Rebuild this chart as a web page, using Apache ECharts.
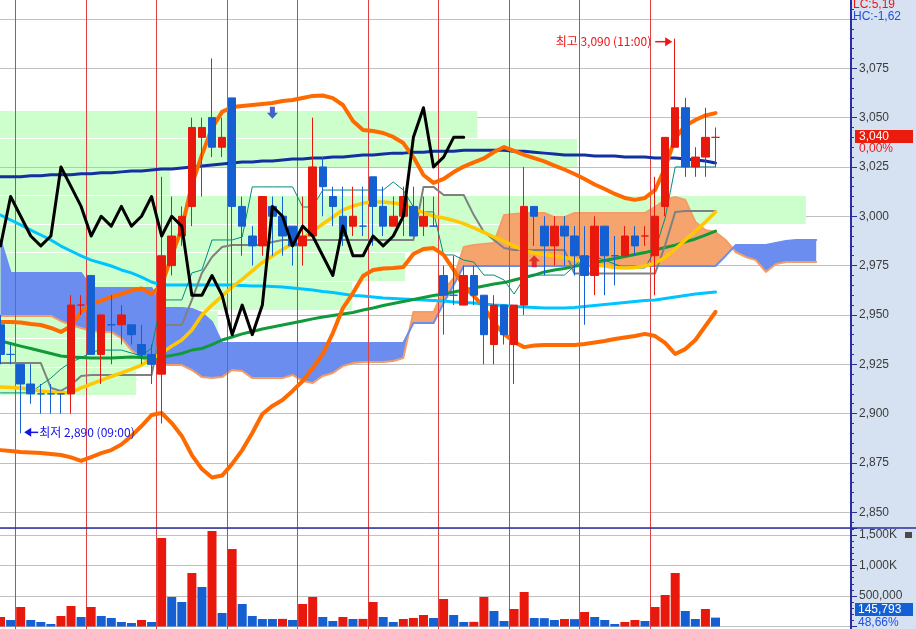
<!DOCTYPE html>
<html>
<head>
<meta charset="utf-8">
<title>chart</title>
<script src="https://cdn.jsdelivr.net/npm/echarts@6/dist/echarts.min.js"></script>
<style>
html,body{margin:0;padding:0;background:#ffffff;}
#chart{width:916px;height:629px;}
</style>
</head>
<body>
<div id="chart"></div>
<script>
// ================= DATA =================
const opens  = [2945,2930,2925,2915,2910,2910,2910,2910,2955,2970, 2930,2945,2945,2945,2935,2930,2920,2975,2990,3005, 3040,3050,3035,3060,3005,2990,2985,3005,3000,2995, 2985,2990,3025,3010,3000,2995,2995,3020,3005,2995, 3000,3005,2995,2995,2970,2960,2955,2970,2960,2935, 2955,2935,2955,3005,2995,2985,2995,2990,2980,2970, 2995,2980,2980,2990,2990,2980,3005,3035,3055,3025, 3030,3040];
const closes = [2930,2930,2915,2910,2910,2910,2910,2955,2955,2930, 2950,2945,2950,2940,2930,2925,2980,2990,3000,3045, 3045,3035,3040,3005,2995,2985,3010,3000,2990,2985, 2990,3025,3015,3005,2990,3000,2995,3005,2995,3000, 3010,2990,3000,2995,2960,2960,2970,2960,2940,2955, 2940,2955,3005,3000,2985,2995,2990,2980,2970,2995, 2980,2980,2990,2985,2990,3000,3040,3055,3025,3030, 3040,3040];
const lows   = [2925,2925,2890,2905,2900,2900,2900,2900,2950,2930, 2915,2925,2935,2935,2925,2915,2895,2970,2985,2995, 3010,3030,3030,2940,2980,2975,2980,2980,2980,2975, 2975,2990,3000,2995,2985,2990,2990,2985,2990,2995, 2990,2990,2990,2995,2940,2955,2955,2955,2925,2925, 2935,2915,2950,2985,2970,2975,2975,2970,2945,2960, 2960,2965,2980,2980,2985,2960,3000,3035,3020,3020, 3020,3025];
const highs  = [2950,2935,2925,2925,2915,2915,2910,2960,2960,2970, 2950,2960,2955,2945,2945,2935,3020,3010,3005,3050, 3050,3080,3050,3060,3010,2995,3010,3010,3010,2995, 3010,3050,3030,3015,3015,3015,3015,3020,3015,3010, 3015,3015,3010,3010,2975,2980,2975,2975,2960,2960, 2955,2955,3025,3005,3000,3000,3000,2995,2995,3000, 2995,2990,2995,2995,2995,3020,3040,3090,3060,3035, 3055,3045];
const volumes = [156000,107000,320000,107000,74000,41000,172000,336000,156000,320000, 172000,139000,74000,57000,107000,74000,1451000,484000,402000,877000, 648000,1566000,221000,1270000,369000,172000,123000,123000,125000,107000, 369000,484000,156000,90000,156000,123000,125000,402000,156000,74000, 123000,139000,189000,139000,451000,189000,74000,76000,484000,254000, 90000,287000,566000,139000,137000,107000,123000,121000,238000,156000, 107000,41000,74000,107000,90000,320000,516000,877000,254000,123000, 287000,145793];

// moving averages / bands
const maNavy = [3020,3020,3020,3020.5,3020.5,3021,3021,3021,3021.5,3021.5, 3022,3022,3022.5,3023,3023,3023.5,3024,3024,3024.5,3025, 3025.5,3026,3026.5,3027,3027.5,3027.5,3028,3028,3028.5,3029, 3029,3029.5,3029.5,3030,3030,3030.5,3031,3031,3031.5,3032, 3032,3032.5,3032.5,3033,3033,3033,3033.5,3033.5,3033.5,3033.5, 3033.5,3033,3033,3032.5,3032,3031.5,3031,3031,3031,3030.5, 3030.5,3030.5,3030,3030,3030,3029.5,3029.5,3029.5,3029,3028.5, 3028,3027];
const maCyan = [3000.6,2998.1,2995.6,2993.0,2990.5,2988.0,2984.9,2982.4,2979.9,2977.8, 2976.3,2974.8,2972.8,2971.3,2969.2,2966.7,2965.2,2965.2,2965.2,2965.2, 2965.2,2965.2,2965.2,2965.2,2964.9,2964.7,2964.7,2964.4,2964.2,2963.7, 2963.2,2962.6,2961.9,2961.4,2960.6,2959.9,2959.6,2959.1,2958.6,2958.3, 2958.1,2957.8,2957.6,2957.3,2957.1,2956.6,2956.3,2956.1,2955.6,2955.0, 2954.8,2954.3,2954.0,2953.8,2953.5,2953.5,2953.5,2953.8,2954.3,2954.8, 2955.3,2955.8,2956.3,2956.8,2957.3,2957.6,2958.3,2959.1,2959.9,2960.6, 2961.1,2961.6];
const maGreen = [2936.8,2935.5,2934.2,2933.0,2931.7,2930.5,2929.2,2928.7,2928.4,2928.2, 2928.2,2928.2,2928.4,2928.7,2928.4,2928.2,2928.7,2929.5,2930.5,2932.2, 2933.0,2935.0,2937.3,2938.8,2940.4,2941.6,2942.9,2943.9,2944.9,2945.9, 2946.9,2948.0,2949.0,2949.7,2950.5,2951.2,2952.5,2953.5,2954.8,2955.8, 2956.8,2957.8,2958.8,2959.9,2960.6,2961.6,2962.6,2963.7,2964.7,2965.7, 2966.4,2967.7,2969.0,2970.2,2971.8,2972.8,2973.5,2974.6,2975.6,2976.6, 2977.6,2978.6,2979.6,2980.6,2981.6,2982.9,2984.2,2985.4,2987.0,2988.5, 2990.5,2992.5];
const maYellow = [2913.5,2913.2,2913.0,2912.2,2911.5,2911.0,2910.5,2910.7,2913.0,2915.0, 2917.0,2918.8,2920.6,2922.6,2924.6,2927.7,2930.7,2934.2,2937.3,2942.4, 2950.0,2955.0,2959.6,2964.2,2968.0,2972.3,2976.6,2979.9,2983.2,2986.2, 2988.7,2992.5,2996.1,2999.6,3003.2,3005.2,3006.7,3007.2,3007.2,3006.7, 3006.0,3003.9,3001.9,3000.1,2999.1,2997.9,2996.3,2994.1,2991.8,2989.5, 2987.5,2984.9,2982.7,2981.4,2980.6,2979.9,2979.1,2978.1,2976.8,2975.3, 2974.8,2974.0,2973.8,2974.0,2974.8,2976.3,2979.1,2983.4,2988.0,2992.5, 2997.1,3002.2];
const bbUpper = [2946.4,2946.4,2946.2,2945.4,2944.9,2943.4,2941.4,2944.4,2951.5,2955.5, 2957.3,2959.1,2960.6,2962.4,2963.4,2960.6,2965.2,2979.9,2994.0,3015.9, 3031.1,3044.7,3052.9,3055.4,3055.9,3056.4,3056.9,3057.4,3058.4,3058.9, 3059.9,3061.0,3061.2,3059.9,3056.4,3048.3,3043.7,3043.2,3042.2,3040.2, 3037.1,3030.0,3020.9,3016.9,3018.9,3022.4,3025.2,3027.3,3029.3,3032.6, 3035.1,3033.1,3031.1,3029.5,3027.8,3025.7,3023.7,3021.4,3018.9,3016.1, 3013.8,3011.3,3009.3,3008.3,3009.3,3013.3,3024.5,3039.7,3045.8,3048.8, 3051.1,3052.3];
const bbLower = [2881.5,2881.0,2880.5,2880.3,2880.0,2879.5,2879.0,2877.8,2876.0,2878.0, 2880.0,2881.5,2884.3,2888.7,2893.7,2899.3,2900.3,2895.2,2888.7,2879.0, 2871.9,2867.6,2868.6,2874.5,2881.5,2890.2,2899.8,2903.9,2906.9,2911.5, 2916.5,2923.1,2930.2,2940.8,2953.5,2961.1,2969.7,2972.8,2973.5,2973.8, 2974.3,2980.9,2983.4,2983.9,2980.4,2972.8,2964.7,2959.6,2954.0,2945.9, 2940.4,2936.3,2933.7,2934.5,2934.8,2934.8,2934.8,2934.8,2935.3,2936.0, 2936.8,2937.8,2938.6,2939.3,2940.4,2939.3,2935.8,2930.2,2932.7,2937.3, 2944.4,2951.5];

// Ichimoku
const kijun = [2925.6,2925.6,2925.6,2925.6,2925.6,2913.0,2911.5,2914.5,2919.1,2919.6, 2919.6,2919.6,2919.6,2919.6,2919.6,2919.6,2944.9,2944.9,2944.9,2957.6, 2971.3,2979.4,2984.4,2985.4,2985.4,2985.4,2985.4,2987.0,2988.0,2988.0, 2988.0,2988.0,2988.0,2988.0,2988.0,2988.0,2988.0,2988.0,2988.0,2988.0, 2988.0,2988.0,3014.9,3014.9,3010.8,3010.8,3010.8,3000.6,2992.0,2988.0, 2983.9,2982.9,2982.9,2982.9,2982.9,2982.9,2982.9,2971.0,2971.0,2971.0, 2971.0,2971.0,2971.0,2971.0,2971.0,2971.0,2985.4,3002.2,3002.7,3002.7, 3002.7,3002.7];
const tenkan = [2910.5,2910.5,2910.5,2910.5,2914.5,2918.0,2922.6,2926.1,2928.2,2931.2, 2932.2,2932.2,2932.2,2930.7,2929.2,2933.3,2957.6,2957.6,2957.6,2971.3, 2972.8,2988.0,2988.0,2988.0,2989.5,3014.9,3014.9,3014.9,3014.9,3014.9, 3004.7,3004.7,3013.3,3013.3,3013.3,3013.3,3013.3,3013.3,3013.3,3017.4, 3013.3,3004.7,3002.2,3002.2,2980.4,2980.4,2977.8,2976.8,2970.2,2970.2, 2967.7,2960.6,2968.7,2970.2,2970.2,2970.2,2970.2,2974.8,2979.4,2979.4, 2977.8,2975.8,2973.8,2973.8,2973.8,2982.9,2999.1,3025.0,3025.0,3025.0, 3025.0,3025.0];
const spanA = [2949.5,2949.5,2949.5,2949.5,2949.5,2949.5,2946.9,2944.9,2943.4,2941.9, 2941.4,2941.4,2938.3,2932.2,2928.2,2926.1,2924.6,2924.6,2924.6,2922.1, 2918.5,2918.0,2918.5,2922.1,2921.6,2918.0,2918.0,2918.0,2918.0,2919.6, 2916.5,2915.5,2919.1,2920.6,2924.1,2925.6,2926.1,2926.1,2926.1,2926.7, 2928.2,2951.5,2951.5,2951.5,2962.6,2968.7,2984.4,2985.4,2985.9,2986.5, 3000.6,3001.1,3001.7,3001.7,3001.7,2999.6,2999.6,3001.7,3001.7,3001.7, 3001.7,3001.7,3001.7,3001.7,3001.7,3004.7,3008.3,3009.8,3008.3,2997.1, 2993.0,2992.0,2988.0,2981.9,2979.4,2977.8,2971.8,2975.8,2976.8,2976.8, 2976.8,2976.8];
const spanB = [2988.0,2971.3,2971.3,2971.3,2971.3,2971.3,2971.3,2971.3,2971.3,2963.7, 2963.7,2963.7,2963.7,2963.7,2963.7,2963.7,2953.5,2953.5,2953.5,2953.0, 2951.0,2946.4,2935.8,2935.8,2935.8,2935.8,2935.8,2935.8,2935.8,2935.8, 2935.8,2935.8,2935.8,2935.8,2935.8,2935.8,2935.8,2935.8,2935.8,2935.8, 2935.8,2945.9,2945.9,2945.9,2956.0,2965.2,2974.8,2974.8,2974.8,2974.8, 2974.8,2974.8,2974.8,2974.8,2974.8,2974.8,2974.8,2974.8,2974.8,2974.8, 2974.8,2974.8,2974.8,2974.8,2974.8,2974.8,2974.8,2974.8,2974.8,2974.8, 2974.8,2974.8,2979.9,2985.4,2985.4,2985.4,2985.4,2986.5,2987.5,2988.0, 2988.0,2988.0];
const lagging = [2985,3010,3000,2990,2985,2990,3025,3015,3005,2990, 3000,2995,3005,2995,3000,3010,2990,3000,2995,2960, 2960,2970,2960,2940,2955,2940,2955,3005,3000,2985, 2995,2990,2980,2970,2995,2980,2980,2990,2985,2990, 3000,3040,3055,3025,3030,3040,3040];

// volume-by-price profile (relative volume per price bin)
const profileLow  = [2909.4, 2923.85, 2938.3, 2952.75, 2967.2, 2981.65, 2996.1, 3010.55, 3025.0, 3039.45];
const profileHigh = [2923.85, 2938.3, 2952.75, 2967.2, 2981.65, 2996.1, 3010.55, 3025.0, 3039.45, 3053.9];
const profileVol  = [16.0, 17.6, 25.6, 41.4, 47.6, 75.2, 94.7, 20.0, 67.8, 56.1];

// session separators (first bar of each block) and signals
const separatorIdx = [2, 9, 16, 23, 30, 37, 44, 51, 58, 65];
const sellSignals = [[27, 3052.5]];
const buySignals  = [[53, 2977.2]];

// axis ticks
const priceGridTicks  = [2850, 2875, 2900, 2925, 2950, 2975, 3000, 3025, 3050, 3075, 3100];
const priceLabelTicks = [2850, 2875, 2900, 2925, 2950, 2975, 3000, 3025, 3050, 3075];
const priceMinorTicks = [];
for (let v = 2845; v <= 3105; v += 5) priceMinorTicks.push(v);

const highTime = '11:00', lowTime = '09:00';
const lcText = 'LC:5,19', hcText = 'HC:-1,62';
const priceChangeText = '0,00%';
const volumeRatioText = '48,66%';

// ================= STYLE =================
const RED = '#e8180c', BLUE = '#1460d2', NAVY = '#2a2ea0';
const CLOUD_UP = '#f6a46e', CLOUD_DN = '#6c8df0';
const PROFILE = '#ccffcc', SEP = '#dc4040', GRIDC = '#c0c0c0';
const FONT = '"Liberation Sans", Arial, sans-serif';
const KFONT = '"Noto Sans CJK KR", "Noto Sans", sans-serif';

const fmt = v => Number(v).toLocaleString('en-US');
const withIndex = arr => arr.map((v, k) => [k, v]);

// candles with HTS doji colouring (doji: compare to prev close, else keep prev colour)
const candleData = [];
let prevUp = true;
for (let k = 0; k < opens.length; k++) {
  const o = opens[k], c = closes[k];
  let up;
  if (c > o) up = true;
  else if (c < o) up = false;
  else if (k === 0) up = true;
  else up = c > closes[k - 1] ? true : (c < closes[k - 1] ? false : prevUp);
  prevUp = up;
  const col = up ? RED : BLUE;
  candleData.push({ value: [k, o, c, lows[k], highs[k]],
    itemStyle: { color: col, color0: col, borderColor: col, borderColor0: col } });
}
const volData = volumes.map((v, k) => ({ value: [k, v],
  itemStyle: { color: (k === 0 || v > volumes[k - 1]) ? RED : BLUE } }));

// cloud runs (split where span A and span B cross)
function buildCloudRuns(A, B) {
  const runs = [];
  let cur = null;
  for (let k = 0; k < A.length; k++) {
    const d = A[k] - B[k];
    const s = d >= 0 ? 1 : -1;
    if (!cur) { cur = { s, a: [[k, A[k]]], b: [[k, B[k]]] }; continue; }
    if (s === cur.s) { cur.a.push([k, A[k]]); cur.b.push([k, B[k]]); continue; }
    const dp = A[k - 1] - B[k - 1];
    const t = dp / (dp - d);
    const xc = k - 1 + t, yc = A[k - 1] + t * (A[k] - A[k - 1]);
    cur.a.push([xc, yc]); cur.b.push([xc, yc]);
    runs.push(cur);
    cur = { s, a: [[xc, yc], [k, A[k]]], b: [[xc, yc], [k, B[k]]] };
  }
  if (cur) runs.push(cur);
  return runs;
}
const cloudRuns = buildCloudRuns(spanA, spanB);

function lineSeries(name, data, color, width, z) {
  return { name, type: 'line', xAxisIndex: 0, yAxisIndex: 0, data: withIndex(data), symbol: 'none',
    smooth: false, silent: true, z, animation: false,
    lineStyle: { color, width, join: 'round', cap: 'round' } };
}
function sepSeries(xi, yi) {
  return { type: 'custom', xAxisIndex: xi, yAxisIndex: yi, z: 3, silent: true, animation: false,
    data: separatorIdx.map(v => [v, 0]),
    renderItem(params, api) {
      const cs = params.coordSys;
      const x = Math.floor(api.coord([api.value(0) - 0.5, 0])[0]) + 0.5;
      return { type: 'line', shape: { x1: x, y1: cs.y, x2: x, y2: cs.y + cs.height + 3 },
        style: { stroke: SEP, lineWidth: 1 } };
    } };
}

// layout: bar k centred at 0.535 + 10.07*k px
const PLOT_W = 851;
const X_MIN = -0.0531, X_MAX = 84.457;
const PRICE_MIN = 2842.54, PRICE_MAX = 3109.6, VOL_MAX = 1614754;

const chart = echarts.init(document.getElementById('chart'), null, { renderer: 'canvas' });

const series = [
  { // volume profile
    type: 'custom', xAxisIndex: 1, yAxisIndex: 0, z: 1, silent: true, clip: true, animation: false,
    data: profileLow.map((lo, i) => [profileVol[i], lo, profileHigh[i]]),
    renderItem(params, api) {
      const p0 = api.coord([0, api.value(2)]);
      const p1 = api.coord([api.value(0), api.value(1)]);
      const top = Math.round(p0[1]) + 1, bot = Math.round(p1[1]);
      return { type: 'rect', shape: { x: p0[0], y: top, width: p1[0] - p0[0], height: bot - top },
        style: { fill: PROFILE } };
    } },
  { // cloud fill
    type: 'custom', xAxisIndex: 0, yAxisIndex: 0, z: 2, silent: true, clip: true, animation: false,
    data: [[0, spanA[0]]],
    renderItem(params, api) {
      return { type: 'group', children: cloudRuns.map(r => ({
        type: 'polygon',
        shape: { points: r.a.map(p => api.coord(p)).concat(r.b.slice().reverse().map(p => api.coord(p))) },
        style: { fill: r.s > 0 ? CLOUD_UP : CLOUD_DN } })) };
    } },
  lineSeries('spanA', spanA, '#f59c66', 2, 2),
  lineSeries('spanB', spanB, '#6c8df0', 2, 2),
  sepSeries(0, 0),
  sepSeries(2, 2),
  lineSeries('ma-navy', maNavy, '#1230a0', 3, 4),
  lineSeries('ma-cyan', maCyan, '#00c4ff', 3, 4),
  lineSeries('ma-green', maGreen, '#109a3a', 3, 4),
  lineSeries('kijun', kijun, '#808080', 2, 4),
  lineSeries('tenkan', tenkan, '#008c7c', 1, 4),
  lineSeries('ma-yellow', maYellow, '#ffc800', 3.5, 4),
  lineSeries('bb-upper', bbUpper, '#ff6a00', 4, 4),
  lineSeries('bb-lower', bbLower, '#ff6a00', 4, 4),
  { name: 'price', type: 'candlestick', xAxisIndex: 0, yAxisIndex: 0, data: candleData,
    encode: { x: 0, y: [1, 2, 3, 4] },
    barWidth: 8, z: 5, silent: true, animation: false, itemStyle: { borderWidth: 1 } },
  lineSeries('lagging', lagging, '#000000', 3, 6),
  { type: 'scatter', xAxisIndex: 0, yAxisIndex: 0, data: sellSignals, z: 7, silent: true, animation: false,
    symbol: 'path://M3,0 L8,0 L8,6 L11,6 L5.5,12 L0,6 L3,6 Z', symbolSize: [11, 12],
    itemStyle: { color: '#1a3cc8' } },
  { type: 'scatter', xAxisIndex: 0, yAxisIndex: 0, data: buySignals, z: 7, silent: true, animation: false,
    symbol: 'path://M5.5,0 L11,6 L8,6 L8,12 L3,12 L3,6 L0,6 Z', symbolSize: [11, 12],
    itemStyle: { color: '#e0101c' } },
  { name: 'volume', type: 'bar', xAxisIndex: 2, yAxisIndex: 2, data: volData, barWidth: 9,
    silent: true, animation: false, z: 5 }
];
const candleSeriesIndex = series.findIndex(s => s.name === 'price');
const volSeriesIndex = series.findIndex(s => s.name === 'volume');

const hiddenX = (gi, min, max) => ({ type: 'value', gridIndex: gi, min, max, show: false,
  axisLine: { show: false, onZero: false }, axisTick: { show: false }, axisLabel: { show: false }, splitLine: { show: false } });

chart.setOption({
  animation: false,
  backgroundColor: '#ffffff',
  textStyle: { fontFamily: FONT },
  grid: [
    { left: 0, top: 0, width: PLOT_W, height: 527 },
    { left: 0, top: 528, width: PLOT_W, height: 98.5 },
    { left: 0, top: 0, width: PLOT_W, height: 527 }
  ],
  xAxis: [
    hiddenX(0, X_MIN, X_MAX),
    hiddenX(0, 0, 100),
    hiddenX(1, X_MIN, X_MAX),
    hiddenX(2, X_MIN, X_MAX)
  ],
  yAxis: [
    { type: 'value', gridIndex: 0, position: 'right', min: PRICE_MIN, max: PRICE_MAX,
      axisLine: { show: false, onZero: false },
      axisTick: { show: true, inside: false, length: 6, customValues: priceGridTicks, lineStyle: { color: NAVY } },
      axisLabel: { show: true, customValues: priceLabelTicks, margin: 8, color: '#3c3c3c', fontSize: 12,
        fontFamily: FONT, formatter: v => fmt(v) },
      splitLine: { show: true, lineStyle: { color: GRIDC, width: 1 } } },
    { type: 'value', gridIndex: 2, position: 'right', min: PRICE_MIN, max: PRICE_MAX,
      axisLine: { show: false, onZero: false },
      axisTick: { show: true, inside: false, length: 3, customValues: priceMinorTicks, lineStyle: { color: NAVY } },
      axisLabel: { show: false }, splitLine: { show: false } },
    { type: 'value', gridIndex: 1, position: 'right', min: 0, max: VOL_MAX, interval: 500000,
      axisLine: { show: false, onZero: false },
      axisTick: { show: true, inside: false, length: 6, lineStyle: { color: NAVY } },
      minorTick: { show: true, splitNumber: 5, length: 3, lineStyle: { color: NAVY } },
      axisLabel: { show: true, margin: 8, color: '#3c3c3c', fontSize: 12, fontFamily: FONT,
        showMinLabel: false, showMaxLabel: false,
        formatter: v => v >= 1000000 ? fmt(v / 1000) + 'K' : fmt(v) },
      splitLine: { show: true, lineStyle: { color: GRIDC, width: 1 } } }
  ],
  series
});

// ---------- overlays positioned from data ----------
const lastK = closes.length - 1;
const lastClose = closes[lastK];
const lastVol = volumes[lastK];
let hiK = 0, loK = 0;
for (let k = 0; k < highs.length; k++) { if (highs[k] > highs[hiK]) hiK = k; if (lows[k] < lows[loK]) loK = k; }
const pPx = (k, v) => chart.convertToPixel({ seriesIndex: candleSeriesIndex }, [k, v]);
const vPx = (k, v) => chart.convertToPixel({ seriesIndex: volSeriesIndex }, [k, v]);
const hiP = pPx(hiK, highs[hiK]);
const loP = pPx(loK, lows[loK]);
const lastP = pPx(lastK, lastClose);
const volP = vPx(lastK, lastVol);

const AX = 851;
function txt(x, y, text, fill, font, align, z) {
  return { type: 'text', x, y, z: z || 60, silent: true,
    style: { text, fill, font, align: align || 'left', textAlign: align || 'left',
      verticalAlign: 'middle', textVerticalAlign: 'middle' } };
}
const hiTip = [hiP[0] - 3, hiP[1] + 3];
const loTip = [loP[0] + 3.5, loP[1] - 1];
const boxY = Math.round(lastP[1]) - 7;
const volBoxY = Math.min(Math.round(volP[1]) - 7, 629 - 26);

chart.setOption({
  graphic: [
    { type: 'rect', z: -10, silent: true, shape: { x: AX, y: 0, width: 916 - AX, height: 629 }, style: { fill: '#d6e2f1' } },
    { type: 'line', z: 50, silent: true, shape: { x1: AX, y1: 0, x2: AX, y2: 629 }, style: { stroke: NAVY, lineWidth: 2 } },
    { type: 'line', z: 50, silent: true, shape: { x1: 0, y1: 528, x2: 916, y2: 528 }, style: { stroke: NAVY, lineWidth: 1.5 } },
    txt(853, 5, lcText, '#f01414', '12px ' + FONT),
    txt(853, 17, hcText, '#2050e0', '12px ' + FONT),
    { type: 'rect', z: 55, silent: true, shape: { x: 855, y: boxY, width: 58, height: 13 }, style: { fill: '#ec1c0c' } },
    txt(859, boxY + 7, fmt(lastClose), '#ffffff', '12px ' + FONT, 'left', 60),
    txt(859, boxY + 19, priceChangeText, '#f01414', '12px ' + FONT, 'left', 60),
    { type: 'rect', z: 55, silent: true, shape: { x: 855, y: volBoxY, width: 58, height: 13 }, style: { fill: '#1460d2' } },
    txt(858, volBoxY + 7, fmt(lastVol), '#ffffff', '12px ' + FONT, 'left', 60),
    txt(858, volBoxY + 19.5, volumeRatioText, '#2050e0', '12px ' + FONT, 'left', 60),
    { type: 'rect', z: 55, silent: true, shape: { x: 905, y: 532, width: 7, height: 6 }, style: { fill: '#4a4a4a' } },
    // high label
    { type: 'line', z: 60, silent: true, shape: { x1: hiTip[0] - 17, y1: hiTip[1], x2: hiTip[0] - 5, y2: hiTip[1] }, style: { stroke: '#f01414', lineWidth: 1.5 } },
    { type: 'polygon', z: 60, silent: true, shape: { points: [[hiTip[0], hiTip[1]], [hiTip[0] - 7, hiTip[1] - 4.5], [hiTip[0] - 7, hiTip[1] + 4.5]] }, style: { fill: '#f01414' } },
    txt(hiTip[0] - 21, hiTip[1], '최고 ' + fmt(highs[hiK]) + ' (' + highTime + ')', '#f01414', '12px ' + KFONT, 'right'),
    // low label
    { type: 'line', z: 60, silent: true, shape: { x1: loTip[0] + 5, y1: loTip[1], x2: loTip[0] + 14, y2: loTip[1] }, style: { stroke: '#1414e6', lineWidth: 1.5 } },
    { type: 'polygon', z: 60, silent: true, shape: { points: [[loTip[0], loTip[1]], [loTip[0] + 7, loTip[1] - 4.5], [loTip[0] + 7, loTip[1] + 4.5]] }, style: { fill: '#1414e6' } },
    txt(loTip[0] + 15, loTip[1], '최저 ' + fmt(lows[loK]) + ' (' + lowTime + ')', '#1414e6', '12px ' + KFONT, 'left')
  ]
});
</script>
</body>
</html>
